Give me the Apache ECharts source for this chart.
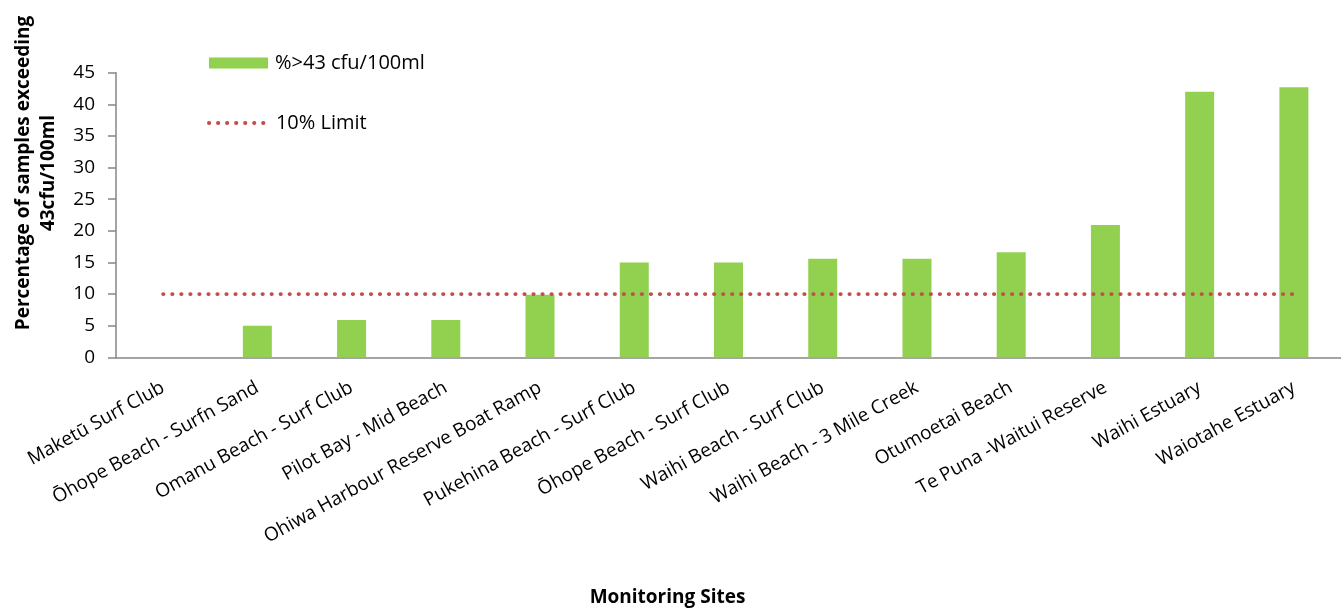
<!DOCTYPE html>
<html>
<head>
<meta charset="utf-8">
<style>
  html, body { margin: 0; padding: 0; background: #fff; }
  #chart { width: 1341px; height: 609px; }
</style>
<script src="https://cdn.jsdelivr.net/npm/echarts@6/dist/echarts.min.js"></script>
</head>
<body>
<div id="chart"></div>
<script>
// Monitoring sites, in order of increasing exceedance
const sites = [
  'Maketū Surf Club',
  'Ōhope Beach - Surfn Sand',
  'Omanu Beach - Surf Club',
  'Pilot Bay - Mid Beach',
  'Ohiwa Harbour Reserve Boat Ramp',
  'Pukehina Beach - Surf Club',
  'Ōhope Beach - Surf Club',
  'Waihi Beach - Surf Club',
  'Waihi Beach - 3 Mile Creek',
  'Otumoetai Beach',
  'Te Puna -Waitui Reserve',
  'Waihi Estuary',
  'Waiotahe Estuary'
];

// Percentage of samples above 43 cfu/100ml at each site
const exceedPct = [0, 5, 5.9, 5.9, 9.9, 15, 15, 15.6, 15.6, 16.6, 20.9, 42, 42.7];

// Guideline limit drawn across every site
const limitPct = [10, 10, 10, 10, 10, 10, 10, 10, 10, 10, 10, 10, 10];

const yTicks = { min: 0, max: 45, interval: 5 };

const FONT = '"Open Sans", "Noto Sans", sans-serif';
const AXIS_GREY = '#868686';
const LIMIT_RED = '#c0504d';
const BAR_GREEN = '#92d050';

// Round-capped short dashes give a row of dots
const dotLine = { color: LIMIT_RED, width: 3.8, type: [0.4, 8.63], cap: 'round' };

const chart = echarts.init(document.getElementById('chart'), null, { renderer: 'canvas' });

chart.setOption({
  animation: false,
  backgroundColor: '#ffffff',
  textStyle: { fontFamily: FONT, color: '#000' },
  grid: { left: 116, top: 72.7, bottom: 251.7, width: 1233, containLabel: false },
  legend: [
    {
      data: [{ name: '%>43 cfu/100ml', icon: 'rect' }],
      orient: 'vertical',
      left: 204, top: 47,
      itemWidth: 59, itemHeight: 11, itemGap: 8,
      textStyle: { fontFamily: FONT, fontSize: 20, color: '#000', lineHeight: 22, padding: [0, 0, 0, 2] }
    },
    {
      data: ['10% Limit'],
      orient: 'vertical',
      left: 202, top: 107,
      itemWidth: 61, itemHeight: 12, itemGap: 8,
      itemStyle: { color: 'rgba(0,0,0,0)', borderWidth: 0 },
      lineStyle: dotLine,
      textStyle: { fontFamily: FONT, fontSize: 20, color: '#000', lineHeight: 22, padding: [0, 0, 0, 1] }
    }
  ],
  xAxis: {
    type: 'category',
    data: sites,
    name: 'Monitoring Sites',
    nameLocation: 'middle',
    nameGap: 231,
    nameTextStyle: { fontFamily: FONT, fontSize: 19, fontWeight: 'bold', color: '#000', padding: [0, 122, 0, 0] },
    axisLine: { lineStyle: { color: AXIS_GREY, width: 1.5 } },
    axisTick: { show: false },
    axisLabel: {
      interval: 0,
      rotate: 29,
      margin: 29,
      fontFamily: FONT,
      fontSize: 19,
      color: '#000'
    }
  },
  yAxis: {
    type: 'value',
    min: yTicks.min, max: yTicks.max, interval: yTicks.interval,
    name: 'Percentage of samples exceeding\n43cfu/100ml',
    nameLocation: 'middle',
    nameRotate: 90,
    nameGap: 55,
    nameTextStyle: {
      fontFamily: FONT, fontSize: 19, fontWeight: 'bold', color: '#000',
      lineHeight: 25, align: 'center', padding: [0, 0, 0, 84]
    },
    splitLine: { show: false },
    axisLine: { show: true, lineStyle: { color: AXIS_GREY, width: 1.5 } },
    axisTick: { show: true, inside: false, length: 8, lineStyle: { color: AXIS_GREY, width: 1.5 } },
    axisLabel: { fontFamily: FONT, fontSize: 19, color: '#000', margin: 21 }
  },
  series: [
    {
      name: '%>43 cfu/100ml',
      type: 'bar',
      data: exceedPct,
      barWidth: 29,
      itemStyle: { color: BAR_GREEN }
    },
    {
      name: '10% Limit',
      type: 'line',
      data: limitPct,
      symbol: 'none',
      z: 5,
      itemStyle: { color: LIMIT_RED },
      lineStyle: dotLine
    }
  ]
});
</script>
</body>
</html>
